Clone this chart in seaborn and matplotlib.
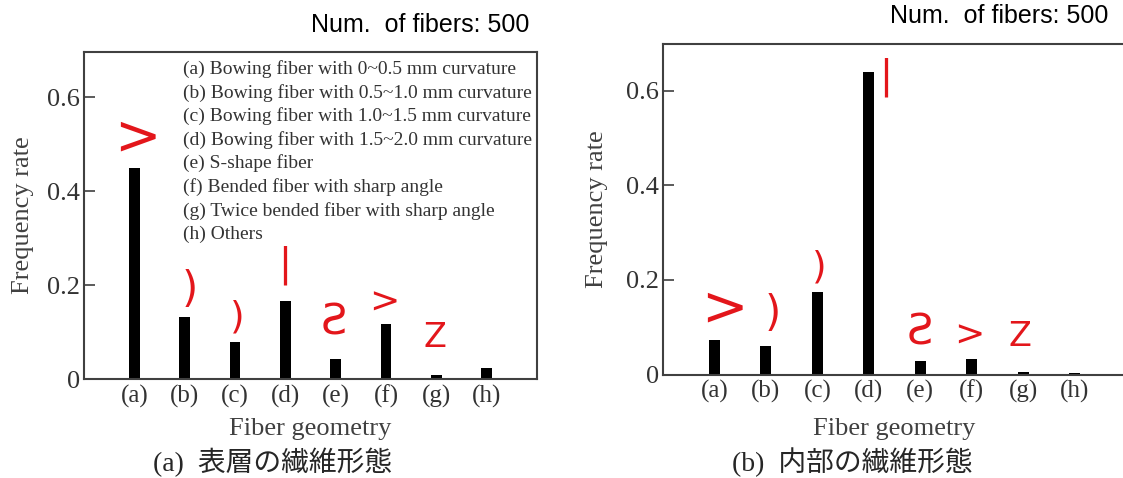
import matplotlib
matplotlib.use('Agg')
import matplotlib.pyplot as plt
import seaborn as sns
import pandas as pd

# data
categories = ['(a)', '(b)', '(c)', '(d)', '(e)', '(f)', '(g)', '(h)']
surface_rate = [0.450, 0.133, 0.079, 0.166, 0.042, 0.118, 0.008, 0.023]
inner_rate = [0.074, 0.060, 0.175, 0.639, 0.028, 0.032, 0.005, 0.004]
descriptions = ['(a) Bowing fiber with 0~0.5 mm curvature',
                '(b) Bowing fiber with 0.5~1.0 mm curvature',
                '(c) Bowing fiber with 1.0~1.5 mm curvature',
                '(d) Bowing fiber with 1.5~2.0 mm curvature',
                '(e) S-shape fiber',
                '(f) Bended fiber with sharp angle',
                '(g) Twice bended fiber with sharp angle',
                '(h) Others']
shape_marks = ['>', ')', ')', '|', 'Ƨ', '>', 'Z', '']
captions = ['(a)  表層の繊維形態', '(b)  内部の繊維形態']
fiber_note = 'Num.  of fibers: 500'
y_ticks = [0, 0.2, 0.4, 0.6]
y_ticklabels = ['0', '0.2', '0.4', '0.6']

# styling for the red hand drawn shapes (pixel offsets from bar top, font sizes)
mark_sizes = [40, 30, 27, 28, 30, 26, 24, 10]
left_offsets = [(3, 29), (5, 27), (2, 24), (-1, 36), (-2, 37), (-2, 21), (-1, 38), (0, 0)]
right_offsets = [(10, 30), (7, 32), (2, 24), (17, -5), (0, 29), (-2, 24), (-3, 36), (0, 0)]

sns.set_style('white')
plt.rcParams['font.family'] = ['Liberation Serif', 'Noto Sans CJK JP']
plt.rcParams['axes.edgecolor'] = '#404040'
plt.rcParams['axes.linewidth'] = 1.5

fig = plt.figure(figsize=(11.23, 4.78), dpi=100)
ax_l = fig.add_axes([84 / 1123, 99 / 478, 453 / 1123, 327 / 478])
ax_r = fig.add_axes([663 / 1123, 103.5 / 478, 463 / 1123, 331 / 478])

panels = [(ax_l, surface_rate, left_offsets, 0.696), (ax_r, inner_rate, right_offsets, 0.70)]
for ax, rate, offsets, ytop in panels:
    df = pd.DataFrame({'geometry': categories, 'rate': rate})
    sns.barplot(data=df, x='geometry', y='rate', color='black', saturation=1,
                width=0.21, linewidth=0, ax=ax)
    ax.set_xlim(-1, 8)
    ax.set_ylim(0, ytop)
    ax.set_yticks(y_ticks)
    ax.set_yticklabels(y_ticklabels)
    ax.tick_params(axis='y', direction='in', length=8, width=1.2, color='#404040',
                   labelsize=19, labelcolor='#333333', pad=3, left=True)
    ax.tick_params(axis='x', length=0, labelsize=18, labelcolor='#333333', pad=4)
    ax.set_xlabel('Fiber geometry', fontsize=19, color='#404040')
    ax.set_ylabel('Frequency rate', fontsize=19, color='#404040')
    for i, (mark, val) in enumerate(zip(shape_marks, rate)):
        if not mark:
            continue
        ax.annotate(mark, xy=(i, val), xytext=offsets[i], textcoords='offset pixels',
                    ha='center', va='center', color='#e3161b', fontsize=mark_sizes[i],
                    family='DejaVu Sans')

ax_l.yaxis.set_label_coords(-0.110, 0.5)
ax_r.yaxis.set_label_coords(-0.119, 0.5)
ax_l.xaxis.set_label_coords(0.5, -0.119)
ax_r.xaxis.set_label_coords(0.5, -0.131)

# description list inside the left panel
for i, line in enumerate(descriptions):
    ax_l.text(0.2185, 0.933 - i * 0.0722, line, transform=ax_l.transAxes,
              fontsize=14, color='#333333', ha='left', va='baseline')

fig.text(529 / 1123, 1 - 32 / 478, fiber_note, ha='right', va='baseline',
         fontsize=18, family='Liberation Sans', color='black')
fig.text(1108 / 1123, 1 - 23 / 478, fiber_note, ha='right', va='baseline',
         fontsize=18, family='Liberation Sans', color='black')

fig.text(273 / 1123, 1 - 462 / 478, captions[0], ha='center', va='center', fontsize=20)
fig.text(852 / 1123, 1 - 462 / 478, captions[1], ha='center', va='center', fontsize=20)

fig.savefig('out.png', dpi=100)
